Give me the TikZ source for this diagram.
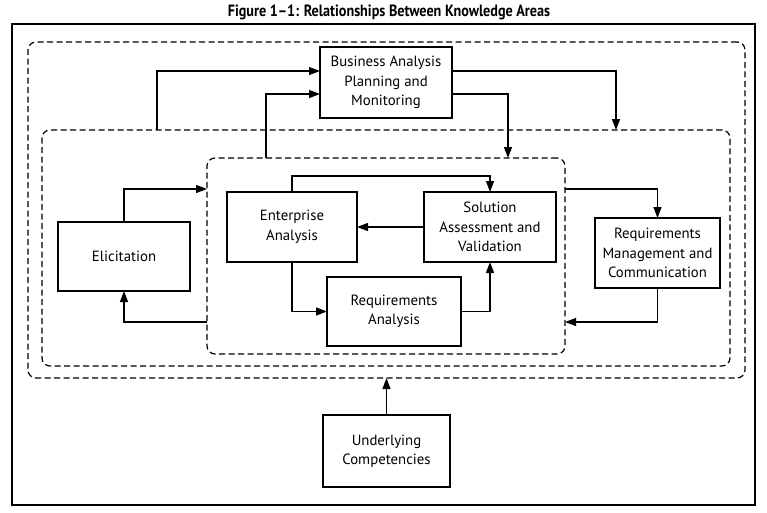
\documentclass[tikz,border=0pt]{standalone}
\usepackage{fontspec}
\setmainfont{PT Sans}
\usetikzlibrary{arrows.meta,positioning}

\begin{document}
\begin{tikzpicture}[x=1pt, y=-1pt,
    area/.style={draw, line width=1.2pt, fill=white, inner sep=0pt, outer sep=0pt,
        align=center, font=\fontsize{14.8}{19.5}\selectfont},
    region/.style={draw, line width=1.2pt, dash pattern=on 6pt off 3.5pt,
        rounded corners=8pt, inner sep=0pt, outer sep=0pt},
    arr/.style={line width=1.2pt, -{Triangle[length=11pt, width=8pt]}}]
    \useasboundingbox (0,0) rectangle (767,512);
    \fill[white] (0,0) rectangle (767,512);

    % title and frame
    \node (title) at (389,12) {\scalebox{0.87}[1]{\fontsize{16.3}{18}\selectfont\bfseries Figure 1--1: Relationships Between Knowledge Areas}};
    \draw[line width=1.2pt] (12,24) rectangle (755,505);

    % dashed regions
    \node[region, minimum width=717pt, minimum height=336pt] (outerdash) at (386.5,210) {};
    \node[region, minimum width=688pt, minimum height=236pt] (middash) at (386,248) {};
    \node[region, minimum width=358pt, minimum height=196pt] (innerdash) at (386,256) {};

    % knowledge areas
    \node[area, minimum width=132pt, minimum height=71pt] (bapm) at (386,82.5) {Business Analysis\\Planning and\\Monitoring};
    \node[area, minimum width=130pt, minimum height=70pt] (ea) at (292,227) {Enterprise\\Analysis};
    \node[area, minimum width=132pt, minimum height=70pt] (sav) at (490,227) {Solution\\Assessment and\\Validation};
    \node[area, minimum width=134pt, minimum height=69pt] (ra) at (394,311.5) {Requirements\\Analysis};
    \node[area, minimum width=132pt, minimum height=69pt] (elic) at (124,256.5) {Elicitation};
    \node[area, minimum width=125pt, minimum height=70pt] (rmc) at (657.5,253) {Requirements\\Management and\\Communication};
    \node[area, minimum width=127pt, minimum height=72pt] (uc) at (386.5,451) {Underlying\\Competencies};

    % connector ends on the dashed regions
    \coordinate (midtopl) at (157,130);
    \coordinate (midtopr) at (616,130);
    \coordinate (innertopl) at (266,158);
    \coordinate (innertopr) at (508,158);
    \coordinate (innerleftt) at (207,189);
    \coordinate (innerleftb) at (207,322);
    \coordinate (innerrightt) at (565,189);
    \coordinate (innerrightb) at (565,322);

    % connectors
    \draw[arr] (midtopl) |- ([yshift=11.5pt]bapm.west);
    \draw[arr] (innertopl) |- ([yshift=-11.5pt]bapm.west);
    \draw[arr] ([yshift=11.5pt]bapm.east) -| (midtopr);
    \draw[arr] ([yshift=-11.5pt]bapm.east) -| (innertopr);
    \draw[arr] (elic.north) |- (innerleftt);
    \draw[arr] (innerleftb) -| (elic.south);
    \draw[arr] (ea.north) -- ++(0,-16) -| (sav.north);
    \draw[arr] (sav.west) -- (ea.east);
    \draw[arr] (ea.south) |- (ra.west);
    \draw[arr] (ra.east) -| (sav.south);
    \draw[arr] (innerrightt) -| (rmc.north);
    \draw[arr] (rmc.south) |- (innerrightb);
    \draw[arr] (uc.north) -- (uc.north |- outerdash.south);
\end{tikzpicture}
\end{document}
